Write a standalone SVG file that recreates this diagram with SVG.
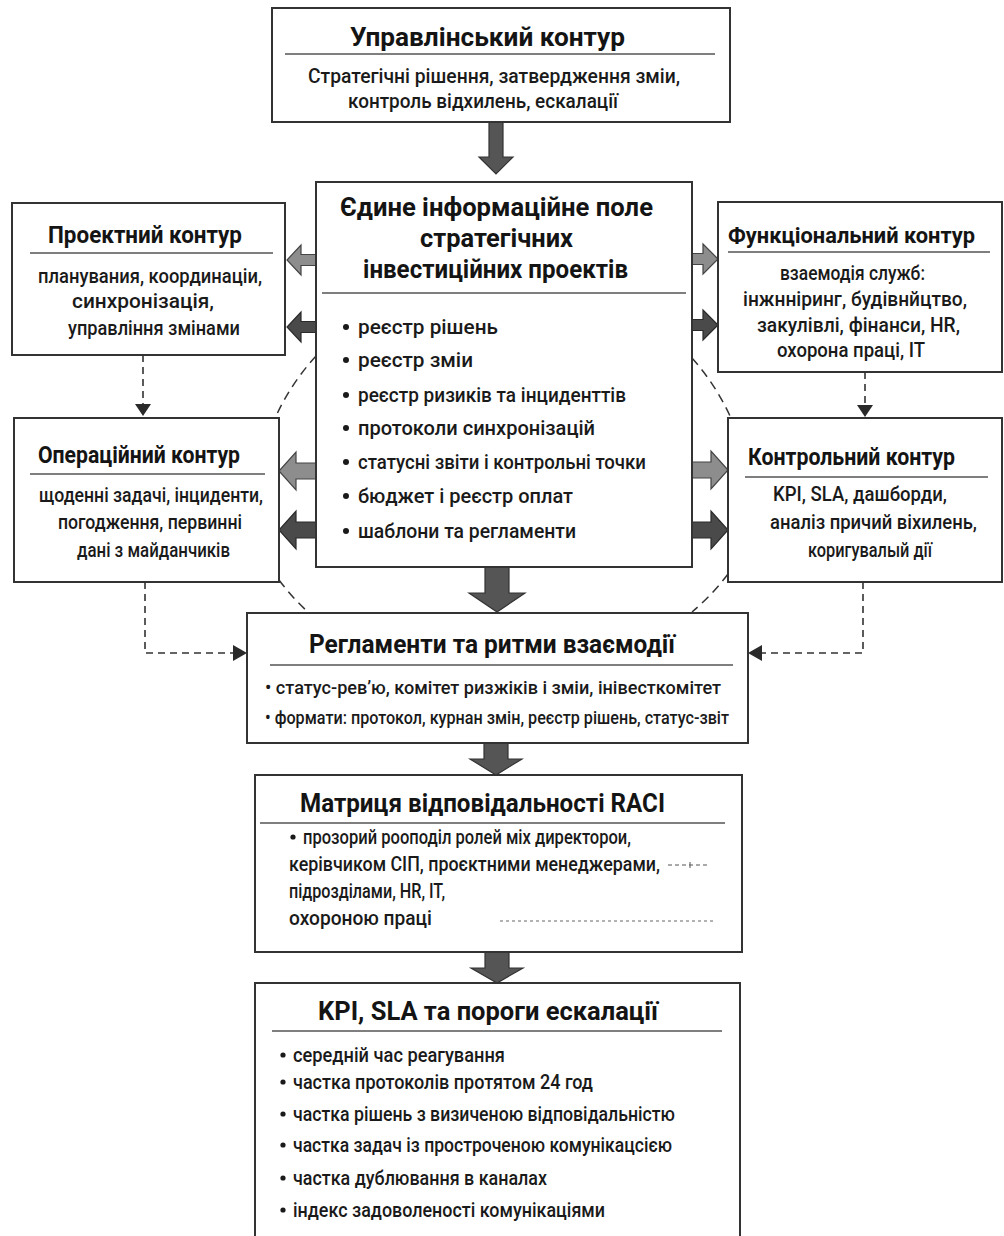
<svg xmlns="http://www.w3.org/2000/svg" width="1004" height="1236" viewBox="0 0 1004 1236">
<defs>
<style>
.box{fill:#fff;stroke:#333;stroke-width:2}
.rule{stroke:#555;stroke-width:1.5}
.t{font-family:Roboto,"Noto Sans","DejaVu Sans",sans-serif;font-weight:700;font-size:26px;fill:#141414;text-anchor:middle}
.tc{font-family:Roboto,"Noto Sans","DejaVu Sans",sans-serif;font-weight:700;font-size:24px;fill:#141414;text-anchor:middle}
.tr{font-family:Roboto,"Noto Sans","DejaVu Sans",sans-serif;font-weight:700;font-size:22px;fill:#141414;text-anchor:middle}
.b{font-family:Roboto,"Noto Sans","DejaVu Sans",sans-serif;font-weight:500;font-size:21px;fill:#1a1a1a}
.bt{font-family:Roboto,"Noto Sans","DejaVu Sans",sans-serif;font-weight:500;font-size:20px;fill:#1a1a1a}
.bs{font-family:Roboto,"Noto Sans","DejaVu Sans",sans-serif;font-weight:500;font-size:18px;fill:#1a1a1a}
.e{text-anchor:end}
.dot{fill:#1a1a1a}
.dash{fill:none;stroke:#333;stroke-width:1.6;stroke-dasharray:7 5}
.arc{fill:none;stroke:#333;stroke-width:1.5;stroke-dasharray:9 6}
.head{fill:#2a2a2a}
.big{fill:#555;stroke:#333;stroke-width:1.2}
.gray{fill:#8d8d8d;stroke:#444;stroke-width:1.2}
.dark{fill:#4a4a4a;stroke:#2a2a2a;stroke-width:1.2}
</style>
</defs>
<rect width="1004" height="1236" fill="#fff"/>

<g id="connectors">
  <path class="arc" d="M316 356 A235 235 0 0 0 277 414"/>
  <path class="arc" d="M279 580 A235 235 0 0 0 309 613"/>
  <path class="arc" d="M692 358 A235 235 0 0 1 730 416"/>
  <path class="arc" d="M728 574 A235 235 0 0 1 692 612"/>
  <path class="dash" d="M143 355 V404"/>
  <polygon class="head" points="135,404 151,404 143,416"/>
  <path class="dash" d="M865 372 V405"/>
  <polygon class="head" points="857,405 873,405 865,417"/>
  <path class="dash" d="M145 582 V653 H233"/>
  <polygon class="head" points="233,645 233,661 247,653"/>
  <path class="dash" d="M863 582 V653 H762"/>
  <polygon class="head" points="762,645 762,661 748,653"/>
  <polygon class="big" points="489,122 503,122 503,157 513,157 496,174 479,157 489,157"/>
  <polygon class="big" points="485,567 509,567 509,593 525,593 497,612 469,593 485,593"/>
  <polygon class="big" points="484,743 508,743 508,759 522,759 496,775 470,759 484,759"/>
  <polygon class="big" points="485,952 509,952 509,968 523,968 497,983 471,968 485,968"/>
  <polygon class="gray" points="316,254.5 301,254.5 301,245 287,260 301,275 301,265.5 316,265.5"/>
  <polygon class="dark" points="316,321.5 301,321.5 301,312 287,327 301,342 301,332.5 316,332.5"/>
  <polygon class="gray" points="692,253.5 703,253.5 703,244 718,259 703,274 703,264.5 692,264.5"/>
  <polygon class="dark" points="692,319.5 703,319.5 703,310 718,325 703,340 703,330.5 692,330.5"/>
  <polygon class="gray" points="316,463 296,463 296,452 279,471 296,490 296,479 316,479"/>
  <polygon class="dark" points="316,522 296,522 296,511 279,530 296,549 296,538 316,538"/>
  <polygon class="gray" points="692,462 711,462 711,451 728,470 711,489 711,478 692,478"/>
  <polygon class="dark" points="692,522 711,522 711,511 728,530 711,549 711,538 692,538"/>
</g>

<g id="upravlinskyi">
  <rect class="box" x="272" y="8" width="458" height="114"/>
  <text class="t" x="487.5" y="46" textLength="275" lengthAdjust="spacingAndGlyphs">Управлінський контур</text>
  <line class="rule" x1="285" y1="54" x2="715" y2="54"/>
  <text class="bt" x="308" y="83" textLength="372" lengthAdjust="spacingAndGlyphs">Стратегічні рішення, затвердження зміи,</text>
  <text class="bt" x="348" y="108" textLength="270" lengthAdjust="spacingAndGlyphs">контроль відхилень, ескалації</text>
</g>

<g id="yedyne-pole">
  <rect class="box" x="316" y="182" width="376" height="385"/>
  <text class="t" x="496.5" y="216" textLength="313" lengthAdjust="spacingAndGlyphs">Єдине інформаційне поле</text>
  <text class="t" x="496.5" y="247" textLength="153" lengthAdjust="spacingAndGlyphs">стратегічних</text>
  <text class="t" x="495.5" y="278" textLength="265" lengthAdjust="spacingAndGlyphs">інвестиційних проектів</text>
  <line class="rule" x1="322" y1="293" x2="686" y2="293"/>
  <g class="dot">
    <circle cx="346" cy="327" r="3"/><circle cx="346" cy="360" r="3"/><circle cx="346" cy="395" r="3"/>
    <circle cx="346" cy="428" r="3"/><circle cx="346" cy="462" r="3"/><circle cx="346" cy="496" r="3"/>
    <circle cx="346" cy="531" r="3"/>
  </g>
  <g class="b">
    <text x="358" y="334" textLength="140" lengthAdjust="spacingAndGlyphs">реєстр рішень</text>
    <text x="358" y="367" textLength="115" lengthAdjust="spacingAndGlyphs">реєстр зміи</text>
    <text x="358" y="402" textLength="268" lengthAdjust="spacingAndGlyphs">реєстр ризиків та інциденттів</text>
    <text x="358" y="435" textLength="237" lengthAdjust="spacingAndGlyphs">протоколи синхронізацій</text>
    <text x="358" y="469" textLength="288" lengthAdjust="spacingAndGlyphs">статусні звіти і контрольні точки</text>
    <text x="358" y="503" textLength="215" lengthAdjust="spacingAndGlyphs">бюджет і реєстр оплат</text>
    <text x="358" y="538" textLength="218" lengthAdjust="spacingAndGlyphs">шаблони та регламенти</text>
  </g>
</g>

<g id="proektnyi">
  <rect class="box" x="12" y="203" width="273" height="152"/>
  <text class="tc" x="145" y="243" textLength="194" lengthAdjust="spacingAndGlyphs">Проектний контур</text>
  <line class="rule" x1="30" y1="253" x2="273" y2="253"/>
  <text class="b" x="38" y="283" textLength="224" lengthAdjust="spacingAndGlyphs">планувания, координаціи,</text>
  <text class="b" x="72" y="308" textLength="142" lengthAdjust="spacingAndGlyphs">синхронізація,</text>
  <text class="b" x="68" y="335" textLength="172" lengthAdjust="spacingAndGlyphs">управління змінами</text>
</g>

<g id="operatsiinyi">
  <rect class="box" x="14" y="418" width="265" height="164"/>
  <text class="tc" x="139" y="463" textLength="202" lengthAdjust="spacingAndGlyphs">Операційний контур</text>
  <line class="rule" x1="30" y1="474" x2="265" y2="474"/>
  <text class="b" x="39" y="502" textLength="224" lengthAdjust="spacingAndGlyphs">щоденні задачі, інциденти,</text>
  <text class="b" x="58" y="529" textLength="184" lengthAdjust="spacingAndGlyphs">погодження, первинні</text>
  <text class="b" x="77" y="557" textLength="153" lengthAdjust="spacingAndGlyphs">дані з майданчиків</text>
</g>

<g id="funktsionalnyi">
  <rect class="box" x="718" y="202" width="284" height="170"/>
  <text class="tr" x="851.5" y="243" textLength="247" lengthAdjust="spacingAndGlyphs">Функціональний контур</text>
  <line class="rule" x1="728" y1="252" x2="990" y2="252"/>
  <text class="b e" x="925" y="280" textLength="145" lengthAdjust="spacingAndGlyphs">взаемодія служб:</text>
  <text class="b e" x="967" y="306" textLength="224" lengthAdjust="spacingAndGlyphs">інжнніринг, будівнйцтво,</text>
  <text class="b e" x="960" y="332" textLength="203" lengthAdjust="spacingAndGlyphs">закулівлі, фінанси, HR,</text>
  <text class="b e" x="925" y="357" textLength="148" lengthAdjust="spacingAndGlyphs">охорона праці, IT</text>
</g>

<g id="kontrolnyi">
  <rect class="box" x="728" y="418" width="274" height="164"/>
  <text class="tc" x="851.5" y="465" textLength="207" lengthAdjust="spacingAndGlyphs">Контрольний контур</text>
  <line class="rule" x1="745" y1="477" x2="988" y2="477"/>
  <text class="b e" x="947" y="501" textLength="174" lengthAdjust="spacingAndGlyphs">KPI, SLA, дашборди,</text>
  <text class="b e" x="977" y="529" textLength="207" lengthAdjust="spacingAndGlyphs">аналіз причий віхилень,</text>
  <text class="b e" x="932" y="557" textLength="124" lengthAdjust="spacingAndGlyphs">коригувалый дії</text>
</g>

<g id="reglamenty">
  <rect class="box" x="247" y="613" width="501" height="130"/>
  <text class="t" x="492" y="653" textLength="366" lengthAdjust="spacingAndGlyphs">Регламенти та ритми взаємодії</text>
  <line class="rule" x1="270" y1="665" x2="733" y2="665"/>
  <text class="bs" x="265" y="694" textLength="456" lengthAdjust="spacingAndGlyphs">• статус-рев’ю, комітет ризжіків і зміи, інівесткомітет</text>
  <text class="bs" x="265" y="724" textLength="464" lengthAdjust="spacingAndGlyphs">• формати: протокол, курнан змін, реєстр рішень, статус-звіт</text>
</g>

<g id="raci">
  <rect class="box" x="255" y="775" width="487" height="177"/>
  <text class="t" x="482.5" y="812" textLength="365" lengthAdjust="spacingAndGlyphs">Матриця відповідальності RACI</text>
  <line class="rule" x1="260" y1="823" x2="725" y2="823"/>
  <circle class="dot" cx="293" cy="837" r="2.6"/>
  <text class="b" x="303" y="844" textLength="328" lengthAdjust="spacingAndGlyphs">прозорий рооподіл ролей міх директорои,</text>
  <text class="b" x="289" y="871" textLength="371" lengthAdjust="spacingAndGlyphs">керівчиком СІП, проєктними менеджерами,</text>
  <text class="b" x="289" y="898" textLength="156" lengthAdjust="spacingAndGlyphs">підрозділами, HR, IT,</text>
  <text class="b" x="289" y="925" textLength="143" lengthAdjust="spacingAndGlyphs">охороною праці</text>
  <line x1="668" y1="865" x2="707" y2="865" stroke="#555" stroke-width="1" stroke-dasharray="4 3"/>
  <line x1="690" y1="862" x2="690" y2="868" stroke="#555" stroke-width="1"/>
  <line x1="500" y1="921" x2="715" y2="921" stroke="#666" stroke-width="1" stroke-dasharray="3 3"/>
</g>

<g id="kpi">
  <rect class="box" x="255" y="983" width="485" height="262"/>
  <text class="t" x="488" y="1020" textLength="340" lengthAdjust="spacingAndGlyphs">KPI, SLA та пороги ескалації</text>
  <line class="rule" x1="272" y1="1031" x2="722" y2="1031"/>
  <g class="dot">
    <circle cx="283" cy="1055" r="2.6"/><circle cx="283" cy="1082" r="2.6"/><circle cx="283" cy="1114" r="2.6"/>
    <circle cx="283" cy="1145" r="2.6"/><circle cx="283" cy="1178" r="2.6"/><circle cx="283" cy="1210" r="2.6"/>
  </g>
  <g class="b">
    <text x="293" y="1062" textLength="212" lengthAdjust="spacingAndGlyphs">середній час реагування</text>
    <text x="293" y="1089" textLength="300" lengthAdjust="spacingAndGlyphs">частка протоколів протятом 24 год</text>
    <text x="293" y="1121" textLength="382" lengthAdjust="spacingAndGlyphs">частка рішень з визиченою відповідальністю</text>
    <text x="293" y="1152" textLength="379" lengthAdjust="spacingAndGlyphs">частка задач із простроченою комунікацсією</text>
    <text x="293" y="1185" textLength="254" lengthAdjust="spacingAndGlyphs">частка дублювання в каналах</text>
    <text x="293" y="1217" textLength="312" lengthAdjust="spacingAndGlyphs">індекс задоволеності комунікаціями</text>
  </g>
</g>
</svg>
